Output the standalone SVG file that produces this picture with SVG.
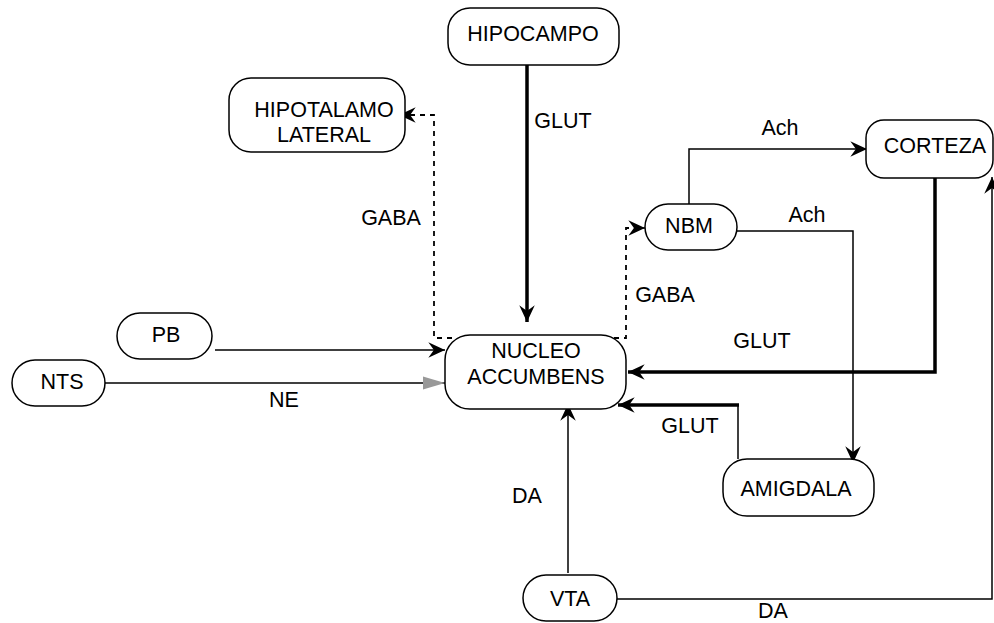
<svg xmlns="http://www.w3.org/2000/svg" width="994" height="623" viewBox="0 0 994 623">
<style>
.box{fill:#fff;stroke:#000;stroke-width:1.5}
.t{font-family:"Liberation Sans",Arial,sans-serif;font-size:21.5px;fill:#000;text-anchor:middle}
.ln{fill:none;stroke:#000;stroke-width:1.5}
.thick{fill:none;stroke:#000;stroke-width:3.5}
.dash{fill:none;stroke:#000;stroke-width:1.8;stroke-dasharray:5 5}
</style>
<defs>
<marker id="ah" markerUnits="userSpaceOnUse" markerWidth="20" markerHeight="20" viewBox="-16 -8 18 16" refX="0" refY="0" orient="auto">
<path d="M0,0 L-15,-7 L-10,0 L-15,7 Z" fill="#000"/>
</marker>
<marker id="ahg" markerUnits="userSpaceOnUse" markerWidth="26" markerHeight="16" viewBox="-24 -8 26 16" refX="0" refY="0" orient="auto">
<path d="M0,0 L-22,-6.5 L-22,6.5 Z" fill="#999"/>
</marker>
</defs>
<g id="connectors">
<path class="thick" d="M527 65 V322" marker-end="url(#ah)"/>
<path class="ln" d="M215 350 H445" marker-end="url(#ah)"/>
<path class="ln" d="M105 383 H445" stroke-width="1.3" marker-end="url(#ahg)"/>
<path class="thick" d="M935 178 V372 H628" marker-end="url(#ah)"/>
<path class="ln" d="M738 459 V405"/>
<path class="thick" d="M739 405 H618" marker-end="url(#ah)"/>
<path class="ln" d="M689 204 V149 H867" marker-end="url(#ah)"/>
<path class="ln" d="M737 231 H853 V463" stroke-width="1.3" marker-end="url(#ah)"/>
<path class="ln" d="M568 573 V404" marker-end="url(#ah)"/>
<path class="ln" d="M617 599 H992 V177" marker-end="url(#ah)"/>
<path class="dash" d="M452 338 H434 V115 H410"/>
<path class="ln" d="M410 115 H399" marker-end="url(#ah)" stroke="none"/>
<path class="dash" d="M614 338 H626 V228 H634"/>
<path class="ln" d="M634 228 H645" marker-end="url(#ah)" stroke="none"/>
</g>
<g id="labels">
<text class="t" x="563" y="128">GLUT</text>
<text class="t" x="391" y="225">GABA</text>
<text class="t" x="665" y="302">GABA</text>
<text class="t" x="780" y="135">Ach</text>
<text class="t" x="807" y="222">Ach</text>
<text class="t" x="762" y="348">GLUT</text>
<text class="t" x="690" y="433">GLUT</text>
<text class="t" x="527" y="503">DA</text>
<text class="t" x="773" y="618">DA</text>
<text class="t" x="284" y="407">NE</text>
</g>
<g id="hipocampo"><rect class="box" x="448" y="8" width="171" height="57" rx="22"/><text class="t" x="533" y="41">HIPOCAMPO</text></g>
<g id="hipotalamo"><rect class="box" x="229" y="78" width="176" height="74" rx="22"/><text class="t" x="324" y="117">HIPOTALAMO</text><text class="t" x="324" y="142">LATERAL</text></g>
<g id="nbm"><rect class="box" x="645" y="204" width="92" height="46" rx="23"/><text class="t" x="689" y="233">NBM</text></g>
<g id="corteza"><rect class="box" x="866" y="120" width="127" height="58" rx="18"/><text class="t" x="935" y="153">CORTEZA</text></g>
<g id="nucleo"><rect class="box" x="445" y="335" width="181" height="74" rx="25"/><text class="t" x="536" y="358">NUCLEO</text><text class="t" x="536" y="384">ACCUMBENS</text></g>
<g id="pb"><rect class="box" x="117" y="313" width="95" height="46" rx="23"/><text class="t" x="166" y="342">PB</text></g>
<g id="nts"><rect class="box" x="12" y="360" width="93" height="46" rx="23"/><text class="t" x="62" y="389">NTS</text></g>
<g id="amigdala"><rect class="box" x="723" y="459" width="151" height="57" rx="24"/><text class="t" x="796" y="496">AMIGDALA</text></g>
<g id="vta"><rect class="box" x="523" y="575" width="94" height="46" rx="23"/><text class="t" x="570" y="606">VTA</text></g>
</svg>
